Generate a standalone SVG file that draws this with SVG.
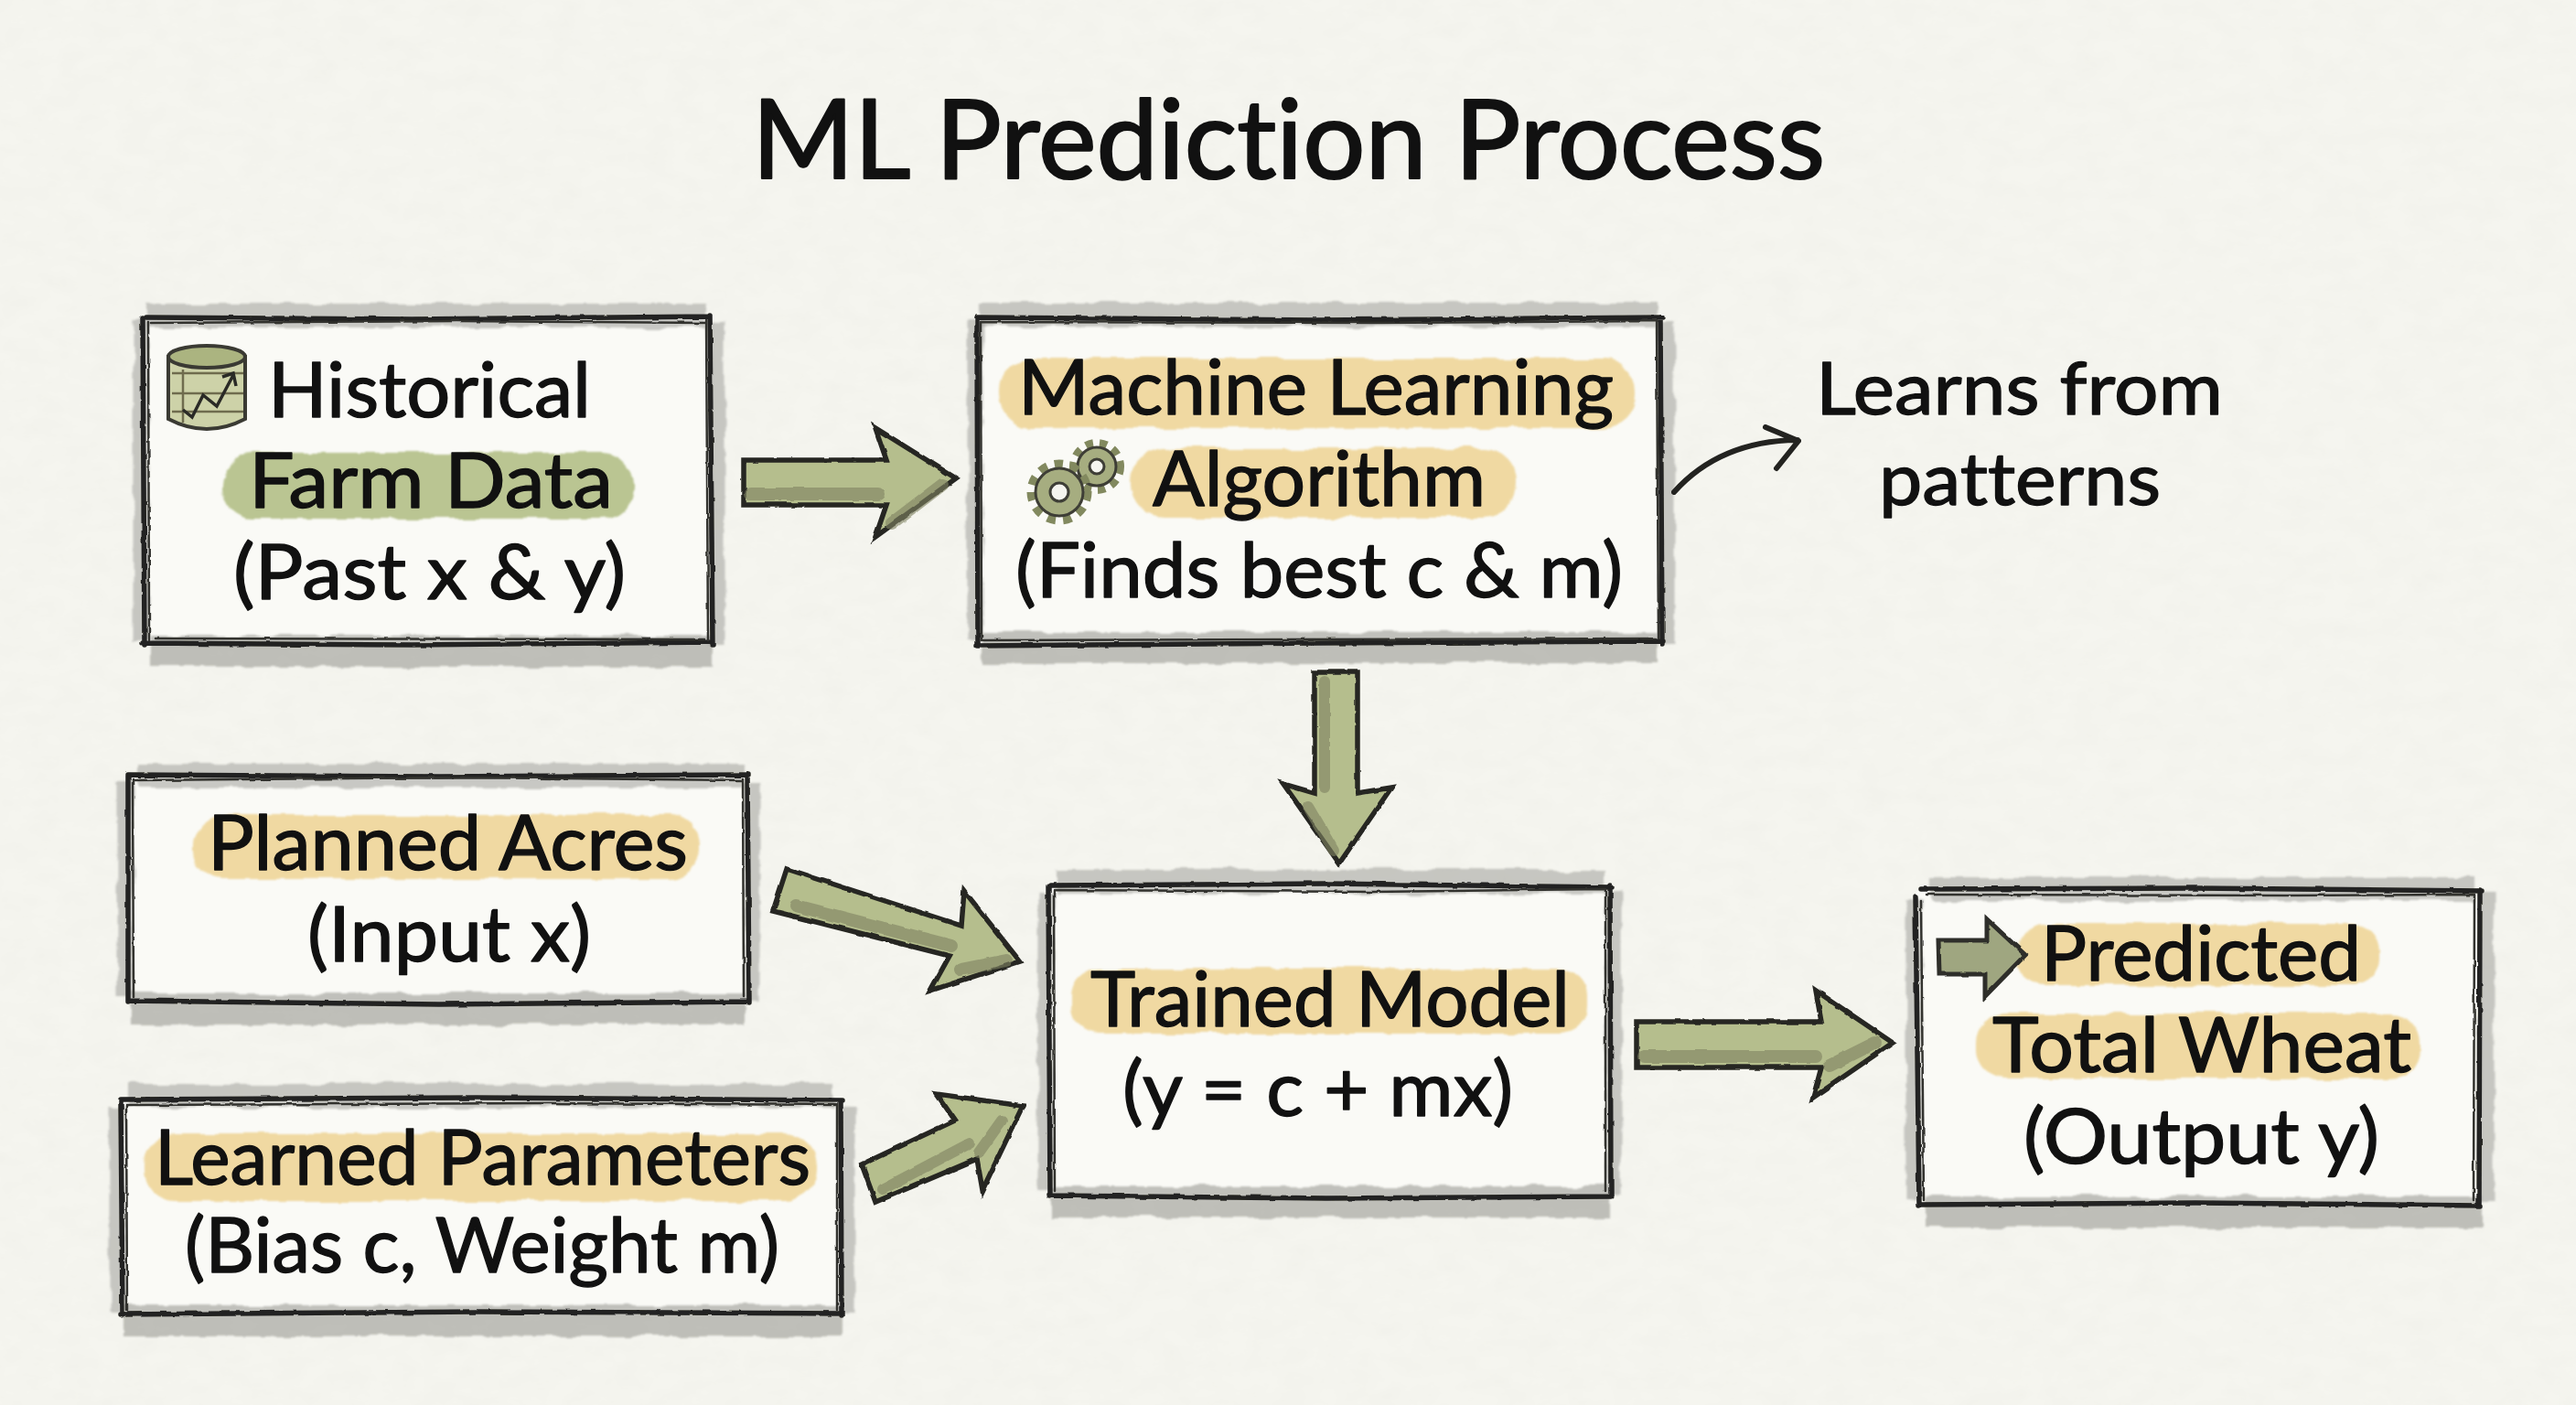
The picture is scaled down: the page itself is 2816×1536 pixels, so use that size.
<svg xmlns="http://www.w3.org/2000/svg" width="2816" height="1536" viewBox="0 0 2816 1536">
<style>
.t{font-family:"Lato","Liberation Sans",sans-serif;font-size:84px;fill:#111;stroke:#111;stroke-width:1.4px;stroke-linejoin:round;font-variant-ligatures:none}
.title{font-size:120px;stroke-width:2.2px}
.note{font-size:80px}
.card{fill:#fafaf6;stroke:none}
.wh{fill:none;stroke:#a9a9a4;stroke-width:26;opacity:.62}
.wb{fill:none;stroke:#a2a29d;stroke-width:34;opacity:.66}
.wv{fill:none;stroke:#a9a9a4;stroke-width:17;opacity:.62}
.ink{fill:none;stroke:#232320;stroke-width:5.5;stroke-linecap:round}
.ink2{fill:none;stroke:#33332f;stroke-width:2.5;stroke-linecap:round}
.hy{fill:#f0d9a2}
.hg{fill:#bac592}
.af{fill:#b5be8d;stroke:#262622;stroke-width:5.5;stroke-linejoin:miter}
.as{fill:none;stroke:#7f8263;stroke-linecap:round;opacity:.62}
</style>
<defs>
<filter id="paper" x="0" y="0" width="100%" height="100%"><feTurbulence type="fractalNoise" baseFrequency="0.03 0.05" numOctaves="4" seed="4"/><feColorMatrix values="0 0 0 0 .55  0 0 0 0 .55  0 0 0 0 .5  .07 .07 0 0 -.05"/></filter>
<filter id="rough" x="-5%" y="-15%" width="110%" height="130%"><feTurbulence type="fractalNoise" baseFrequency="0.03" numOctaves="3" seed="7"/><feDisplacementMap in="SourceGraphic" scale="9" xChannelSelector="R" yChannelSelector="G"/><feGaussianBlur stdDeviation="1"/></filter>
<filter id="pencil" x="-5%" y="-10%" width="110%" height="120%"><feTurbulence type="fractalNoise" baseFrequency="0.07" numOctaves="2" seed="3"/><feDisplacementMap in="SourceGraphic" scale="3" xChannelSelector="R" yChannelSelector="G"/></filter>
</defs>
<rect width="2816" height="1536" fill="#f5f5ef"/>
<rect width="2816" height="1536" filter="url(#paper)"/>
<text id="title" class="t title" x="822" y="195" textLength="1173" lengthAdjust="spacingAndGlyphs">ML Prediction Process</text>

<g id="node-historical">
<rect class="card" x="156" y="349" width="622" height="354"/>
<g filter="url(#rough)"><path class="wh" d="M160 345H772"/><path class="wb" d="M165 712H780"/><path class="wv" d="M154 350V700M784 350V705"/></g>
<g filter="url(#pencil)"><path class="ink" d="M160 347L450 349L776 346M776 345L779 705M156 703L450 705L778 702M156 348L158 705"/><path class="ink2" d="M165 353L500 351L772 353M772 350L774 700M162 352L163 700M170 698L770 699"/></g>
<rect class="hg" filter="url(#rough)" x="242" y="495" width="450" height="72" rx="34"/>
<g id="database-icon">
<path d="M184 390V458Q226 480 268 458V390Z" fill="#cdd2a8" stroke="#3a3a33" stroke-width="4"/>
<ellipse cx="226" cy="390" rx="42" ry="12" fill="#abb480" stroke="#3a3a33" stroke-width="4"/>
<path d="M188 408H266M188 430H266M188 450H266M200 404V462" fill="none" stroke="#6f6c4e" stroke-width="2.5"/>
<path d="M200 448L210 456L222 432L237 444L255 410M243 412L255 408L258 422" fill="none" stroke="#2a2a26" stroke-width="3.5"/>
</g>
<text class="t" x="293" y="456" textLength="353" lengthAdjust="spacingAndGlyphs">Historical</text>
<text class="t" x="272" y="555" textLength="398" lengthAdjust="spacingAndGlyphs">Farm Data</text>
<text class="t" x="255" y="655" textLength="429" lengthAdjust="spacingAndGlyphs">(Past x &amp; y)</text>
</g>

<g id="node-algorithm">
<rect class="card" x="1068" y="349" width="748" height="354"/>
<g filter="url(#rough)"><path class="wh" d="M1070 344H1812"/><path class="wb" d="M1075 708H1812"/><path class="wv" d="M1066 350V700M1822 350V705"/></g>
<g filter="url(#pencil)"><path class="ink" d="M1068 347L1440 350L1818 347M1815 347L1817 704M1068 706L1440 703L1818 701M1068 347L1069 705"/><path class="ink2" d="M1072 352L1500 353L1812 351M1811 352L1813 698M1072 352L1073 700M1075 700L1810 698"/></g>
<rect class="hy" filter="url(#rough)" x="1092" y="392" width="696" height="76" rx="36"/>
<rect class="hy" filter="url(#rough)" x="1236" y="490" width="422" height="76" rx="36"/>
<g id="gears-icon">
<circle cx="1199" cy="510" r="25" fill="none" stroke="#82895f" stroke-width="10" stroke-dasharray="8 7"/>
<circle cx="1199" cy="510" r="21" fill="#a6ad80" stroke="#3e3e36" stroke-width="3"/>
<circle cx="1199" cy="510" r="8" fill="#f5f5ef" stroke="#3e3e36" stroke-width="3"/>
<circle cx="1158" cy="538" r="30" fill="none" stroke="#82895f" stroke-width="11" stroke-dasharray="9 8"/>
<circle cx="1158" cy="538" r="26" fill="#a6ad80" stroke="#3e3e36" stroke-width="3"/>
<circle cx="1158" cy="538" r="10" fill="#f5f5ef" stroke="#3e3e36" stroke-width="3"/>
</g>
<text class="t" x="1113" y="453" textLength="651" lengthAdjust="spacingAndGlyphs">Machine Learning</text>
<text class="t" x="1260" y="553" textLength="364" lengthAdjust="spacingAndGlyphs">Algorithm</text>
<text class="t" x="1110" y="653" textLength="664" lengthAdjust="spacingAndGlyphs">(Finds best c &amp; m)</text>
</g>

<g id="note-learns">
<text class="t note" x="1985" y="453" textLength="445" lengthAdjust="spacingAndGlyphs">Learns from</text>
<text class="t note" x="2054" y="552" textLength="308" lengthAdjust="spacingAndGlyphs">patterns</text>
</g>

<g id="node-planned">
<rect class="card" x="140" y="850" width="678" height="246"/>
<g filter="url(#rough)"><path class="wh" d="M150 848H812"/><path class="wb" d="M142 1103H815"/><path class="wv" d="M137 855V1090M822 855V1095"/></g>
<g filter="url(#pencil)"><path class="ink" d="M140 847L480 849L819 847M817 847L819 1097M140 1094L480 1098L819 1095M140 848L140 1095"/><path class="ink2" d="M145 853L500 850L812 853M145 852L146 1090M812 852L813 1090"/></g>
<rect class="hy" filter="url(#rough)" x="212" y="891" width="552" height="70" rx="32"/>
<text class="t" x="227" y="951" textLength="525" lengthAdjust="spacingAndGlyphs">Planned Acres</text>
<text class="t" x="336" y="1051" textLength="310" lengthAdjust="spacingAndGlyphs">(Input x)</text>
</g>

<g id="node-learned">
<rect class="card" x="132" y="1203" width="788" height="234"/>
<g filter="url(#rough)"><path class="wh" d="M140 1198H912"/><path class="wb" d="M135 1444H920"/><path class="wv" d="M128 1210V1435M926 1210V1435"/></g>
<g filter="url(#pencil)"><path class="ink" d="M132 1202L520 1200L921 1203M919 1203L920 1438M132 1437L520 1434L920 1436M132 1203L134 1438"/><path class="ink2" d="M138 1208L600 1206L915 1208M915 1208L915 1432M138 1208L139 1432"/></g>
<rect class="hy" filter="url(#rough)" x="158" y="1239" width="735" height="74" rx="34"/>
<text class="t" x="169" y="1295" textLength="717" lengthAdjust="spacingAndGlyphs">Learned Parameters</text>
<text class="t" x="202" y="1391" textLength="650" lengthAdjust="spacingAndGlyphs">(Bias c, Weight m)</text>
</g>

<g id="node-trained">
<rect class="card" x="1147" y="969" width="612" height="338"/>
<g filter="url(#rough)"><path class="wh" d="M1155 964H1755"/><path class="wb" d="M1150 1314H1760"/><path class="wv" d="M1143 975V1300M1764 975V1305"/></g>
<g filter="url(#pencil)"><path class="ink" d="M1148 968L1450 966L1762 970M1760 968L1761 1308M1147 1307L1450 1310L1761 1308M1146 969L1148 1308"/><path class="ink2" d="M1152 973L1500 975L1755 972M1755 972L1755 1302M1152 973L1153 1302"/></g>
<rect class="hy" filter="url(#rough)" x="1172" y="1059" width="563" height="71" rx="30"/>
<text class="t" x="1192" y="1122" textLength="524" lengthAdjust="spacingAndGlyphs">Trained Model</text>
<text class="t" x="1227" y="1220" textLength="427" lengthAdjust="spacingAndGlyphs">(y = c + mx)</text>
</g>

<g id="node-predicted">
<rect class="card" x="2095" y="974" width="616" height="342"/>
<g filter="url(#rough)"><path class="wh" d="M2110 972H2705"/><path class="wb" d="M2105 1325H2712"/><path class="wv" d="M2092 985V1310M2718 975V1315"/></g>
<g filter="url(#pencil)"><path class="ink" d="M2100 972L2400 971L2713 974M2711 973L2710 1318M2098 1317L2400 1315L2711 1318M2094 980L2098 1318"/><path class="ink2" d="M2105 978L2500 979L2705 978M2705 978L2704 1312M2100 985L2103 1312"/></g>
<rect class="hy" filter="url(#rough)" x="2205" y="1010" width="396" height="67" rx="30"/>
<rect class="hy" filter="url(#rough)" x="2160" y="1108" width="486" height="71" rx="32"/>
<path id="predicted-arrow-icon" d="M2119 1028H2172V1005L2214 1044L2170 1089V1065H2120Z" fill="#9fa680" stroke="#2e2e29" stroke-width="5" filter="url(#pencil)"/>
<text class="t" x="2231" y="1072" textLength="350" lengthAdjust="spacingAndGlyphs">Predicted</text>
<text class="t" x="2178" y="1172" textLength="458" lengthAdjust="spacingAndGlyphs">Total Wheat</text>
<text class="t" x="2212" y="1272" textLength="389" lengthAdjust="spacingAndGlyphs">(Output y)</text>
</g>

<g id="connectors">
<g filter="url(#pencil)">
<path class="af" d="M813 503H969L957 468L1045 523L957 587L969 552H813Z"/>
<path class="as" stroke-width="14" d="M820 540H960M975 572L1030 530"/>
<path class="af" d="M1437 735H1484V867L1521 861L1464 944L1403 857L1437 867Z"/>
<path class="as" stroke-width="12" d="M1448 745V860M1430 882L1458 930"/>
<path class="af" d="M860 950L1051 1012L1054 974L1115 1051L1017 1083L1038 1045L845 996Z"/>
<path class="as" stroke-width="14" d="M870 990L1040 1034M1050 1060L1100 1050"/>
<path class="af" d="M942 1273L1044 1225L1024 1196L1118 1209L1074 1301L1068 1267L957 1314Z"/>
<path class="as" stroke-width="12" d="M965 1300L1060 1250M1070 1260L1095 1225"/>
<path class="af" d="M1789 1117H1991L1985 1083L2069 1140L1982 1200L1991 1167H1789Z"/>
<path class="as" stroke-width="14" d="M1797 1155H1985M2000 1165L2050 1140"/>
</g>
<path d="M1830 538Q1880 482 1965 481M1930 467L1966 482L1942 512" fill="none" stroke="#232320" stroke-width="6" stroke-linecap="round" stroke-linejoin="round"/>
</g>
</svg>
